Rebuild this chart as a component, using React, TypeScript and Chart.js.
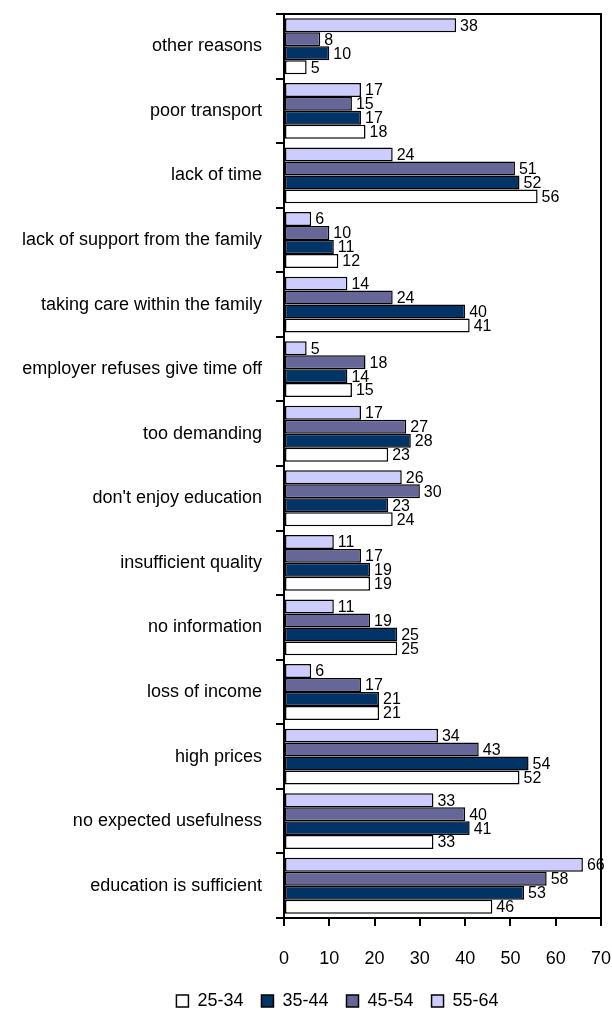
import React, { useEffect, useRef } from "react";
import { Chart, registerables } from "chart.js";

Chart.register(...registerables);

const categories = [
  "other reasons",
  "poor transport",
  "lack of time",
  "lack of support from the family",
  "taking care within the family",
  "employer refuses give time off",
  "too demanding",
  "don't enjoy education",
  "insufficient quality",
  "no information",
  "loss of income",
  "high prices",
  "no expected usefulness",
  "education is sufficient",
];

const age5564 = [38, 17, 24, 6, 14, 5, 17, 26, 11, 11, 6, 34, 33, 66];
const age4554 = [8, 15, 51, 10, 24, 18, 27, 30, 17, 19, 17, 43, 40, 58];
const age3544 = [10, 17, 52, 11, 40, 14, 28, 23, 19, 25, 21, 54, 41, 53];
const age2534 = [5, 18, 56, 12, 41, 15, 23, 24, 19, 25, 21, 52, 33, 46];

const xTicks = [0, 10, 20, 30, 40, 50, 60, 70];

const FONT = "'Liberation Sans', Arial, sans-serif";

const valueLabels = {
  id: "valueLabels",
  afterDatasetsDraw(chart: any) {
    const ctx = chart.ctx;
    ctx.save();
    ctx.font = `16px ${FONT}`;
    ctx.fillStyle = "#000";
    ctx.textAlign = "left";
    ctx.textBaseline = "middle";
    chart.data.datasets.forEach((ds: any, di: number) => {
      const meta = chart.getDatasetMeta(di);
      meta.data.forEach((el: any, i: number) => {
        ctx.fillText(String(ds.data[i]), el.x + 4, el.y + 1);
      });
    });
    ctx.restore();
  },
};

const frame = {
  id: "frame",
  afterDraw(chart: any) {
    const { ctx, chartArea } = chart;
    ctx.save();
    ctx.strokeStyle = "#000";
    ctx.lineWidth = 2;
    ctx.beginPath();
    ctx.moveTo(chartArea.left, chartArea.top);
    ctx.lineTo(chartArea.right, chartArea.top);
    ctx.lineTo(chartArea.right, chartArea.bottom);
    ctx.stroke();
    ctx.restore();
  },
};

const legendShift = {
  id: "legendShift",
  afterLayout(chart: any) {
    const lg = chart.legend;
    if (!lg) return;
    lg.left += 37;
    lg.right += 37;
    lg.top += 8;
    lg.bottom += 8;
  },
};

export default function App() {
  const ref = useRef<HTMLCanvasElement>(null);
  useEffect(() => {
    if (!ref.current) return;
    const chart = new Chart(ref.current, {
      type: "bar",
      data: {
        labels: categories,
        datasets: [
          { label: "55-64", data: age5564, backgroundColor: "#CCCCFF" },
          { label: "45-54", data: age4554, backgroundColor: "#666699" },
          { label: "35-44", data: age3544, backgroundColor: "#003366" },
          { label: "25-34", data: age2534, backgroundColor: "#FFFFFF" },
        ].map((d) => ({
          ...d,
          borderColor: "#000",
          borderWidth: 1.5,
          borderSkipped: false,
          barPercentage: 1,
          categoryPercentage: 0.865,
        })),
      },
      options: {
        indexAxis: "y",
        animation: false,
        responsive: false,
        maintainAspectRatio: false,
        layout: { padding: { top: 14, right: 11, left: 0, bottom: 0 } },
        plugins: {
          tooltip: { enabled: false },
          legend: {
            position: "bottom",
            reverse: true,
            labels: {
              font: { family: FONT, size: 18 },
              color: "#000",
              boxWidth: 12,
              boxHeight: 12,
              padding: 18,
              useBorderRadius: false,
            },
          },
        },
        scales: {
          x: {
            min: 0,
            max: 70,
            afterBuildTicks: (scale: any) => {
              scale.ticks = xTicks.map((v) => ({ value: v }));
            },
            afterFit: (scale: any) => {
              scale.height = 48;
              scale.paddingLeft = 0;
              scale.paddingRight = 0;
            },
            grid: {
              drawOnChartArea: false,
              drawTicks: true,
              tickLength: 8,
              color: "#000",
              lineWidth: 2,
            },
            border: { display: true, color: "#000", width: 2 },
            ticks: {
              font: { family: FONT, size: 18 },
              color: "#000",
              padding: 22,
              maxRotation: 0,
            },
          },
          y: {
            afterFit: (scale: any) => {
              scale.width = 284;
              scale.paddingTop = 0;
              scale.paddingBottom = 0;
            },
            grid: {
              drawOnChartArea: false,
              drawTicks: true,
              tickLength: 8,
              color: "#000",
              lineWidth: 2,
            },
            border: { display: true, color: "#000", width: 2 },
            ticks: {
              font: { family: FONT, size: 18 },
              color: "#000",
              padding: 14,
              autoSkip: false,
            },
          },
        },
      },
      plugins: [valueLabels, frame, legendShift],
    } as any);
    return () => chart.destroy();
  }, []);
  return (
    <div style={{ position: "absolute", left: 0, top: 0, width: 612, height: 1012, background: "#fff" }}>
      <canvas ref={ref} width={612} height={1012} style={{ display: "block" }} />
    </div>
  );
}
